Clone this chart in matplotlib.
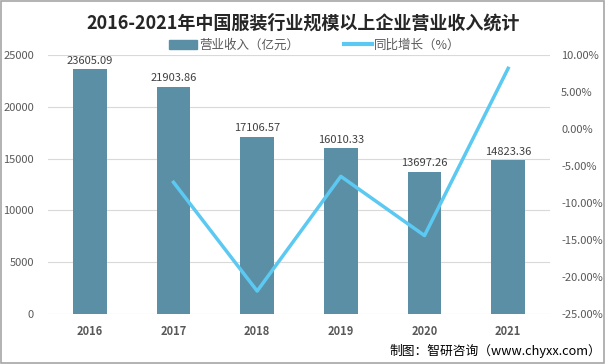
import matplotlib.pyplot as plt
from matplotlib.patches import Rectangle
from matplotlib.lines import Line2D

plt.rcParams['font.family'] = ['Noto Sans CJK SC', 'DejaVu Sans']

years = ['2016', '2017', '2018', '2019', '2020', '2021']
revenue = [23605.09, 21903.86, 17106.57, 16010.33, 13697.26, 14823.36]
growth = [None, -7.2, -21.9, -6.4, -14.4, 8.2]

bar_color = '#5B8FA6'
line_color = '#5BC9F2'

fig = plt.figure(figsize=(6.06, 3.64), dpi=100)
ax = fig.add_axes([48/606, 1-314/364, 502/606, 259/364])
ax2 = ax.twinx()

x = list(range(len(years)))
ax.bar(x, revenue, width=0.4, color=bar_color, zorder=2)
for i, v in enumerate(revenue):
    ax.text(i, v + 350, '%.2f' % v, ha='center', va='bottom', fontsize=8, color='#404040')

gx = [i for i, g in zip(x, growth) if g is not None]
gy = [g for g in growth if g is not None]
ax2.plot(gx, gy, color=line_color, linewidth=2.5, zorder=3)

ax.set_xlim(-0.5, 5.5)
ax.set_ylim(0, 25000)
ax.set_yticks(range(0, 25001, 5000))
ax2.set_ylim(-25, 10)
ax2.set_yticks(range(-25, 11, 5))
ax2.set_yticklabels(['%.2f%%' % t for t in range(-25, 11, 5)])

ax.set_xticks(x)
ax.set_xticklabels(years, fontweight='bold', fontsize=8, color='#262626')
ax.grid(axis='y', color='#D9D9D9', linewidth=0.8, zorder=0)
for a in (ax, ax2):
    for s in a.spines.values():
        s.set_visible(False)
    a.tick_params(length=0, labelsize=8, labelcolor='#595959')
ax.tick_params(axis='y', pad=10)
ax.tick_params(axis='x', pad=8)
ax2.tick_params(axis='y', pad=8)

fig.text(0.5, 1-23/364, '2016-2021年中国服装行业规模以上企业营业收入统计',
         ha='center', va='center', fontsize=13, fontweight='bold', color='#262626')

handles = [Rectangle((0, 0), 1, 1, color=bar_color),
           Line2D([0], [0], color=line_color, linewidth=3)]
fig.legend(handles, ['营业收入（亿元）', '同比增长（%）'], loc='center',
           bbox_to_anchor=(315/606, 1-45/364), ncol=2, frameon=False,
           fontsize=9, handlelength=2.2, handletextpad=0.2, columnspacing=3.6,
           labelcolor='#595959')

fig.text(389/606, 1-351/364, '制图：智研咨询（www.chyxx.com）', ha='left', va='center',
         fontsize=9.2, color='#000000')

fig.add_artist(Rectangle((0.002, 0.004), 0.994, 0.993, transform=fig.transFigure,
                         fill=False, edgecolor='#A6A6A6', linewidth=1.2))

fig.savefig('out.png', dpi=100)
